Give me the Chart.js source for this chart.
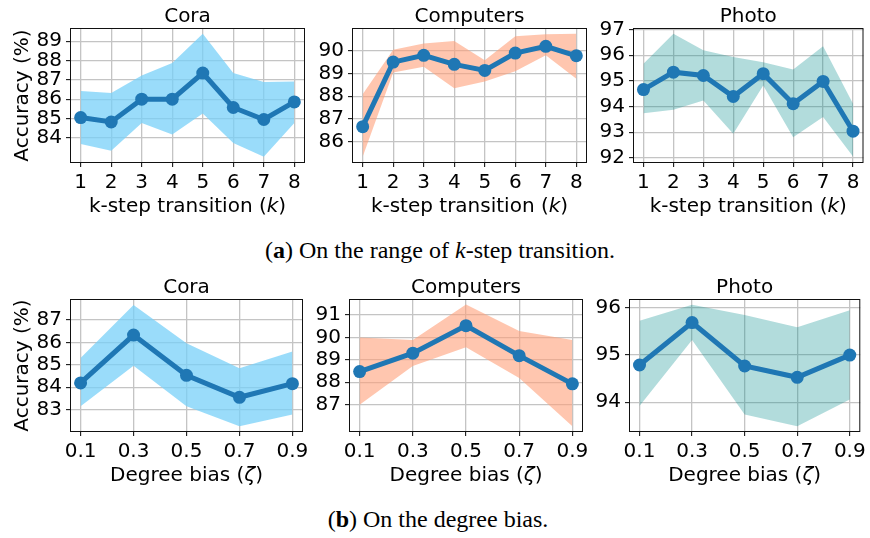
<!DOCTYPE html>
<html>
<head>
<meta charset="utf-8">
<script src="https://cdn.jsdelivr.net/npm/chart.js@4.4.0/dist/chart.umd.min.js"></script>
<style>
  body { margin: 0; background: #fff; width: 870px; height: 538px; position: relative; overflow: hidden; }
  canvas { position: absolute; }
  .cap { position: absolute; left: 0; font-family: "Liberation Serif", serif; font-size: 24px; line-height: 24px; text-align: center; color: #000; white-space: nowrap; }
</style>
</head>
<body>
<div class="cap" id="capA" style="top:238px;width:880px">(<b>a</b>) On the range of <i>k</i>-step transition.</div>
<div class="cap" id="capB" style="top:507px;width:876px">(<b>b</b>) On the degree bias.</div>
<script>
// x values
const kSteps = [1, 2, 3, 4, 5, 6, 7, 8];
const degreeBias = [0.1, 0.3, 0.5, 0.7, 0.9];
const kRange = [0.65, 8.35];
const biasRange = [0.06, 0.94];

// (a) k-step transition
const coraK = [85.05, 84.82, 86.0, 86.0, 87.35, 85.57, 84.95, 85.86];
const coraKUpper = [86.42, 86.32, 87.23, 87.87, 89.38, 87.35, 86.89, 86.92];
const coraKLower = [83.68, 83.33, 84.77, 84.18, 85.26, 83.74, 83.02, 84.77];
const coraKTicks = [84, 85, 86, 87, 88, 89];
const coraKRange = [82.7, 89.68];

const computersK = [86.65, 89.51, 89.81, 89.41, 89.14, 89.91, 90.21, 89.79];
const computersKUpper = [88.08, 90.06, 90.33, 90.44, 89.59, 90.65, 90.74, 90.77];
const computersKLower = [85.32, 89.05, 89.3, 88.35, 88.65, 89.1, 89.81, 88.77];
const computersKTicks = [86, 87, 88, 89, 90];
const computersKRange = [85.04, 91.02];

const photoK = [94.66, 95.34, 95.21, 94.39, 95.28, 94.11, 94.98, 93.04];
const photoKUpper = [95.67, 96.84, 96.19, 95.93, 95.73, 95.44, 96.35, 94.11];
const photoKLower = [93.74, 93.87, 94.24, 92.94, 94.82, 92.8, 93.59, 92.05];
const photoKTicks = [92, 93, 94, 95, 96, 97];
const photoKRange = [91.8, 97.06];

// (b) degree bias
const coraBias = [84.19, 86.33, 84.53, 83.55, 84.16];
const coraBiasUpper = [85.3, 87.67, 85.96, 84.85, 85.59];
const coraBiasLower = [83.15, 84.96, 83.15, 82.26, 82.78];
const coraBiasTicks = [83, 84, 85, 86, 87];
const coraBiasRange = [82.0, 87.94];

const computersBias = [88.48, 89.3, 90.53, 89.19, 87.93];
const computersBiasUpper = [90.0, 89.89, 91.47, 90.29, 89.89];
const computersBiasLower = [87.0, 88.73, 89.56, 88.19, 86.04];
const computersBiasTicks = [87, 88, 89, 90, 91];
const computersBiasRange = [85.78, 91.72];

const photoBias = [94.79, 95.69, 94.77, 94.53, 95.0];
const photoBiasUpper = [95.73, 96.07, 95.85, 95.59, 95.95];
const photoBiasLower = [93.92, 95.32, 93.74, 93.49, 94.06];
const photoBiasTicks = [94, 95, 96];
const photoBiasRange = [93.37, 96.19];

const lineBlue = "#1f77b4";
const bandCora = "rgba(120,208,248,0.75)";
const bandComputers = "rgba(255,160,122,0.6)";
const bandPhoto = "rgba(0,139,139,0.3)";
const FONT = '"DejaVu Sans", sans-serif';

const kLabel = [["k-step transition (", false], ["k", true], [")", false]];
const biasLabel = [["Degree bias (", false], ["\u03b6", true], [")", false]];

const panels = [
  { title: "Cora", xs: kSteps, xr: kRange, mean: coraK, hi: coraKUpper, lo: coraKLower, ticks: coraKTicks, yr: coraKRange, band: bandCora, xLabel: kLabel, yLabel: true, box: [70, 28, 305, 163], row: 0, fmt: (v) => String(v) },
  { title: "Computers", xs: kSteps, xr: kRange, mean: computersK, hi: computersKUpper, lo: computersKLower, ticks: computersKTicks, yr: computersKRange, band: bandComputers, xLabel: kLabel, yLabel: false, box: [352, 28, 587, 163], row: 0, fmt: (v) => String(v) },
  { title: "Photo", xs: kSteps, xr: kRange, mean: photoK, hi: photoKUpper, lo: photoKLower, ticks: photoKTicks, yr: photoKRange, band: bandPhoto, xLabel: kLabel, yLabel: false, box: [633, 28, 868, 163], row: 0, fmt: (v) => String(v) },
  { title: "Cora", xs: degreeBias, xr: biasRange, mean: coraBias, hi: coraBiasUpper, lo: coraBiasLower, ticks: coraBiasTicks, yr: coraBiasRange, band: bandCora, xLabel: biasLabel, yLabel: true, box: [70, 299, 303, 432], row: 260, fmt: (v) => v.toFixed(1) },
  { title: "Computers", xs: degreeBias, xr: biasRange, mean: computersBias, hi: computersBiasUpper, lo: computersBiasLower, ticks: computersBiasTicks, yr: computersBiasRange, band: bandComputers, xLabel: biasLabel, yLabel: false, box: [349, 299, 583, 432], row: 260, fmt: (v) => v.toFixed(1) },
  { title: "Photo", xs: degreeBias, xr: biasRange, mean: photoBias, hi: photoBiasUpper, lo: photoBiasLower, ticks: photoBiasTicks, yr: photoBiasRange, band: bandPhoto, xLabel: biasLabel, yLabel: false, box: [629, 299, 863, 432], row: 260, fmt: (v) => v.toFixed(1) },
];

function drawMixed(ctx, parts, cx, y) {
  const fontOf = (it) => (it ? "italic " : "") + "20px " + FONT;
  let total = 0;
  parts.forEach(([t, it]) => { ctx.font = fontOf(it); total += ctx.measureText(t).width; });
  let x = cx - total / 2;
  ctx.textAlign = "left";
  parts.forEach(([t, it]) => {
    ctx.font = fontOf(it);
    ctx.fillText(t, x, y);
    x += ctx.measureText(t).width;
  });
}

const framePlugin = {
  id: "frame",
  afterDraw(chart, args, opts) {
    const { ctx, chartArea: a } = chart;
    ctx.save();
    ctx.strokeStyle = "#111";
    ctx.lineWidth = 1;
    ctx.strokeRect(a.left + 0.5, a.top + 0.5, a.width - 1, a.height - 1);
    ctx.fillStyle = "#000";
    ctx.textBaseline = "alphabetic";
    ctx.font = "20px " + FONT;
    ctx.textAlign = "center";
    ctx.fillText(opts.title, (a.left + a.right) / 2, a.top - 6);
    drawMixed(ctx, opts.xLabel, (a.left + a.right) / 2, a.bottom + 48.5);
    if (opts.yLabel) {
      ctx.font = "20px " + FONT;
      ctx.textAlign = "center";
      ctx.translate(a.left - 42.5, (a.top + a.bottom) / 2);
      ctx.rotate(-Math.PI / 2);
      ctx.fillText("Accuracy (%)", 0, 0);
    }
    ctx.restore();
  },
};

panels.forEach((p) => {
  const [L, T, R, B] = p.box;
  const yw = 70;
  const rp = Math.min(24, 870 - R);
  const cv = document.createElement("canvas");
  const w = R - L + yw + rp;
  const h = p.row === 0 ? 230 : 278;
  cv.width = w;
  cv.height = h;
  cv.style.left = L - yw + "px";
  cv.style.top = p.row + "px";
  document.body.appendChild(cv);
  const pts = (arr) => p.xs.map((x, i) => ({ x, y: arr[i] }));
  const xh = h - (B - p.row);

  new Chart(cv, {
    type: "line",
    data: {
      datasets: [
        { data: pts(p.mean), borderColor: lineBlue, backgroundColor: lineBlue, borderWidth: 5, pointRadius: 6.5, pointHoverRadius: 6.5, pointBorderWidth: 0, pointBackgroundColor: lineBlue, fill: false, tension: 0, clip: false },
        { data: pts(p.lo), borderWidth: 0, pointRadius: 0, fill: false, tension: 0 },
        { data: pts(p.hi), borderWidth: 0, pointRadius: 0, fill: "-1", backgroundColor: p.band, tension: 0 },
      ],
    },
    options: {
      responsive: false,
      animation: false,
      devicePixelRatio: 1,
      events: [],
      layout: { padding: { left: 0, top: T - p.row, right: rp, bottom: 0 } },
      plugins: {
        legend: { display: false },
        tooltip: { enabled: false },
        frame: { title: p.title, xLabel: p.xLabel, yLabel: p.yLabel },
      },
      scales: {
        x: {
          type: "linear",
          min: p.xr[0],
          max: p.xr[1],
          afterBuildTicks: (s) => { s.ticks = p.xs.map((v) => ({ value: v })); },
          afterFit: (s) => { s.height = xh; },
          border: { display: false },
          grid: { color: "#c4c4c4", lineWidth: 1.3, tickColor: "#000", tickWidth: 1, tickLength: 4 },
          ticks: { autoSkip: false, maxRotation: 0, padding: 4, color: "#000", font: { family: FONT, size: 20 }, callback: (v) => p.fmt(v) },
        },
        y: {
          type: "linear",
          min: p.yr[0],
          max: p.yr[1],
          afterBuildTicks: (s) => { s.ticks = p.ticks.map((v) => ({ value: v })); },
          afterFit: (s) => { s.width = yw; },
          border: { display: false },
          grid: { color: "#c4c4c4", lineWidth: 1.3, tickColor: "#000", tickWidth: 1, tickLength: 4 },
          ticks: { autoSkip: false, padding: 4, color: "#000", font: { family: FONT, size: 20 }, callback: (v) => String(v) },
        },
      },
    },
    plugins: [framePlugin],
  });
});
</script>
</body>
</html>
